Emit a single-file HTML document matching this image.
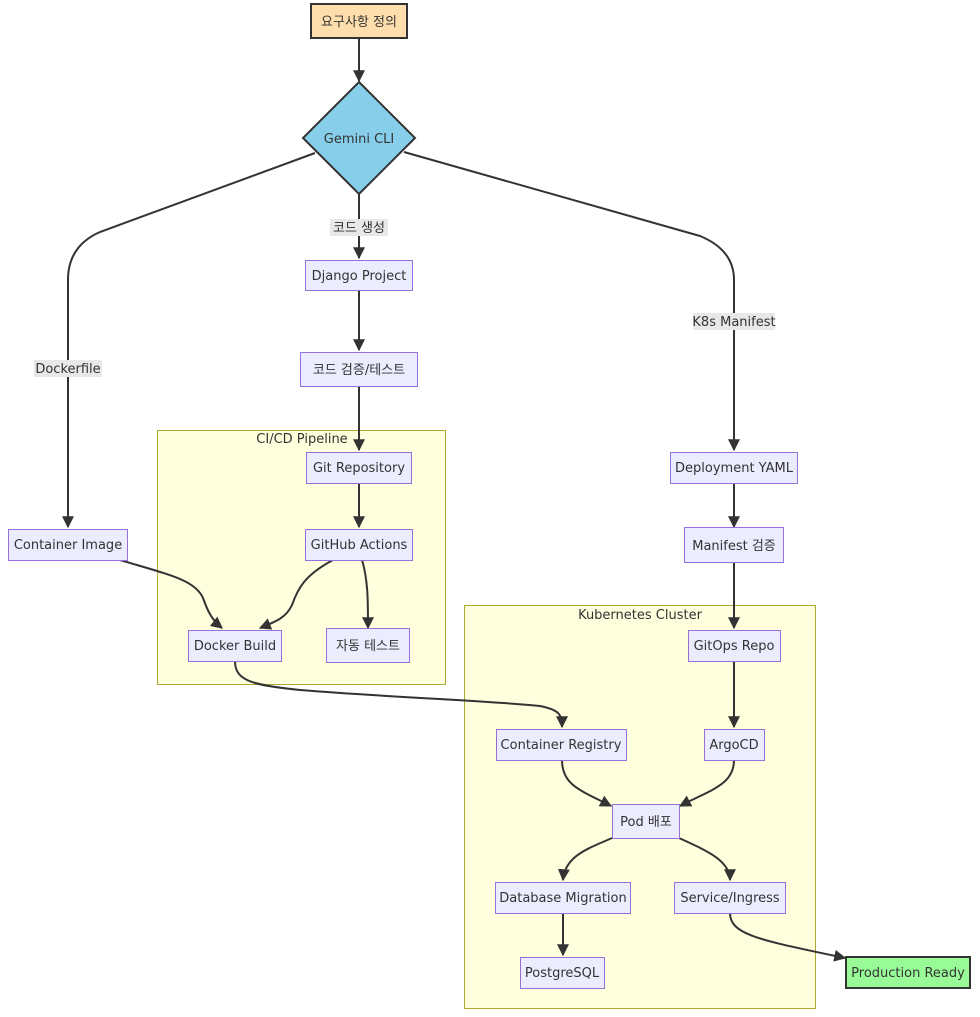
<!DOCTYPE html>
<html><head><meta charset="utf-8"><style>
html,body{margin:0;padding:0;background:#fff;}
svg{display:block;}
text{font-family:"DejaVu Sans","Liberation Sans","Noto Sans CJK KR",sans-serif;font-size:13px;fill:#333;}
.n{fill:#ECECFF;stroke:#9370DB;stroke-width:1;}
.e{fill:none;stroke:#333;stroke-width:2;marker-end:url(#a2);}
.c{fill:#ffffde;stroke:#aaaa33;stroke-width:1;}
.lb{fill:#e8e8e8;}
</style></head><body>
<svg width="980" height="1017" viewBox="0 0 980 1017" xmlns="http://www.w3.org/2000/svg">
<defs>
<marker id="a2" viewBox="0 0 10 10" refX="9" refY="5" markerWidth="12" markerHeight="12" markerUnits="userSpaceOnUse" orient="auto"><path d="M0,0 L10,5 L0,10 z" fill="#333"/></marker></defs>
<rect class="c" x="157.5" y="430.5" width="288" height="254"/>
<rect class="c" x="464.5" y="605.5" width="351" height="403"/>
<text x="302" y="443" text-anchor="middle">CI/CD Pipeline</text>
<text x="640" y="619" text-anchor="middle">Kubernetes Cluster</text>

<!-- edges -->
<path class="e" d="M359,38 L359,81"/>
<path class="e" d="M315,153 L100,232 Q68,246 68,280 L68,527"/>
<path class="e" d="M359,194 L359,258"/>
<path class="e" d="M404,152 L700,236 Q734,250 734,280 L734,450"/>
<path class="e" d="M359,290 L359,350"/>
<path class="e" d="M359,386 L359,450"/>
<path class="e" d="M359,483 L359,527"/>
<path class="e" d="M734,483 L734,527"/>
<path class="e" d="M734,563 L734,628"/>
<path class="e" d="M734,661 L734,727"/>
<path class="e" d="M120,560 C170,575 195,580 203,598 C208,612 212,620 222,628"/>
<path class="e" d="M333,560 C305,575 298,588 292,605 C286,618 275,622 260,628"/>
<path class="e" d="M362,560 C368,580 368,600 368,628"/>
<path class="e" d="M235,661 C235,680 250,685 300,690 C400,698 480,700 540,706 C560,710 562,715 562,727"/>
<path class="e" d="M562,760 C562,785 580,790 611,806"/>
<path class="e" d="M734,760 C734,785 710,790 680,806"/>
<path class="e" d="M612,838 C590,848 565,855 563,880"/>
<path class="e" d="M679,838 C705,850 730,860 730,880"/>
<path class="e" d="M563,913 L563,955"/>
<path class="e" d="M730,913 C730,935 760,940 845,958"/>

<!-- edge labels -->
<rect class="lb" x="330" y="219" width="58" height="17"/><text x="359" y="232" text-anchor="middle">코드 생성</text>
<rect class="lb" x="34" y="360" width="68" height="17"/><text x="68" y="373" text-anchor="middle">Dockerfile</text>
<rect class="lb" x="693" y="313" width="82" height="17"/><text x="734" y="326" text-anchor="middle">K8s Manifest</text>

<!-- nodes -->
<rect x="311" y="4" width="96" height="34" fill="#FFDEAD" stroke="#333" stroke-width="2"/><text x="359" y="26" text-anchor="middle">요구사항 정의</text>
<polygon points="359,82 415,138 359,194 303,138" fill="#87CEEB" stroke="#333" stroke-width="2"/><text x="359" y="143" text-anchor="middle">Gemini CLI</text>
<rect class="n" x="305.5" y="260.5" width="107" height="30"/><text x="359" y="280" text-anchor="middle">Django Project</text>
<rect class="n" x="300.5" y="352.5" width="117" height="34"/><text x="359" y="374" text-anchor="middle">코드 검증/테스트</text>
<rect class="n" x="306.5" y="452.5" width="105" height="31"/><text x="359" y="472" text-anchor="middle">Git Repository</text>
<rect class="n" x="305.5" y="529.5" width="107" height="31"/><text x="359" y="549" text-anchor="middle">GitHub Actions</text>
<rect class="n" x="188.5" y="630.5" width="93" height="31"/><text x="235" y="650" text-anchor="middle">Docker Build</text>
<rect class="n" x="326.5" y="628.5" width="83" height="34"/><text x="368" y="650" text-anchor="middle">자동 테스트</text>
<rect class="n" x="8.5" y="529.5" width="119" height="31"/><text x="68" y="549" text-anchor="middle">Container Image</text>
<rect class="n" x="670.5" y="452.5" width="127" height="31"/><text x="734" y="472" text-anchor="middle">Deployment YAML</text>
<rect class="n" x="684.5" y="527.5" width="99" height="35"/><text x="734" y="550" text-anchor="middle">Manifest 검증</text>
<rect class="n" x="688.5" y="630.5" width="92" height="31"/><text x="734" y="650" text-anchor="middle">GitOps Repo</text>
<rect class="n" x="704.5" y="729.5" width="60" height="31"/><text x="734" y="749" text-anchor="middle">ArgoCD</text>
<rect class="n" x="496.5" y="729.5" width="130" height="31"/><text x="561" y="749" text-anchor="middle">Container Registry</text>
<rect class="n" x="612.5" y="804.5" width="67" height="34"/><text x="646" y="826" text-anchor="middle">Pod 배포</text>
<rect class="n" x="495.5" y="882.5" width="135" height="31"/><text x="563" y="902" text-anchor="middle">Database Migration</text>
<rect class="n" x="674.5" y="882.5" width="111" height="31"/><text x="730" y="902" text-anchor="middle">Service/Ingress</text>
<rect class="n" x="520.5" y="957.5" width="84" height="31"/><text x="562" y="977" text-anchor="middle">PostgreSQL</text>
<rect x="846" y="957" width="124" height="31" fill="#98FB98" stroke="#333" stroke-width="2"/><text x="908" y="977" text-anchor="middle">Production Ready</text>
</svg>
</body></html>
